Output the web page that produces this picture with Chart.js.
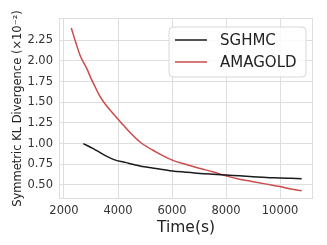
<!DOCTYPE html>
<html>
<head>
<meta charset="utf-8">
<script src="https://cdn.jsdelivr.net/npm/chart.js@4.4.1/dist/chart.umd.min.js"></script>
<style>
  html, body { margin: 0; padding: 0; background: #fff; }
  #wrap { width: 327px; height: 245px; }
</style>
</head>
<body>
<div id="wrap"><canvas id="klChart"></canvas></div>
<script>
// values (x = time in seconds, y in units of 1e-2)
const sghmcTime = [2715, 3085, 3450, 3826, 4300, 4815, 5400, 6011, 6500, 7037, 7500, 8000, 8500, 9000, 9500, 10000, 10400, 10800];
const sghmcKL   = [1.00, 0.94, 0.87, 0.81, 0.77, 0.73, 0.70, 0.67, 0.655, 0.64, 0.63, 0.62, 0.61, 0.60, 0.59, 0.585, 0.58, 0.575];

const amagoldTime = [2270, 2430, 2593, 2841, 3000, 3148, 3300, 3456, 3800, 4137, 4400, 4815, 5400, 6011, 6500, 7037, 7500, 8000, 8500, 9000, 9500, 10000, 10400, 10800];
const amagoldKL   = [2.40, 2.23, 2.07, 1.91, 1.79, 1.69, 1.59, 1.51, 1.37, 1.245, 1.15, 1.02, 0.90, 0.80, 0.75, 0.70, 0.66, 0.61, 0.57, 0.54, 0.51, 0.48, 0.45, 0.43];

const xTicks = [2000, 4000, 6000, 8000, 10000];
const yTicks = [0.50, 0.75, 1.00, 1.25, 1.50, 1.75, 2.00, 2.25];

const seriesNames = ['SGHMC', 'AMAGOLD'];
const seriesColors = ['#1a1a1a', '#cc4b4b'];

function toPoints(xs, ys) {
    return xs.map((x, i) => ({ x: x, y: ys[i] }));
}

const gridColor = '#dedede';
const tickColor = '#333333';

// frame around plot area + legend box inside plot
const framePlugin = {
    id: 'frame',
    beforeDatasetsDraw(chart) {
        const a = chart.chartArea;
        const ctx = chart.ctx;
        ctx.save();
        ctx.strokeStyle = gridColor;
        ctx.lineWidth = 1;
        ctx.strokeRect(a.left + 0.5, a.top + 0.5, a.right - a.left - 1, a.bottom - a.top - 1);
        ctx.restore();
    },
    afterDraw(chart) {
        const ctx = chart.ctx;
        const bx = 169, by = 27, bw = 137, bh = 50, r = 4;
        ctx.save();
        ctx.fillStyle = 'rgba(255,255,255,0.85)';
        ctx.strokeStyle = '#d8d8d8';
        ctx.lineWidth = 1;
        ctx.beginPath();
        ctx.moveTo(bx + r, by);
        ctx.arcTo(bx + bw, by, bx + bw, by + bh, r);
        ctx.arcTo(bx + bw, by + bh, bx, by + bh, r);
        ctx.arcTo(bx, by + bh, bx, by, r);
        ctx.arcTo(bx, by, bx + bw, by, r);
        ctx.closePath();
        ctx.fill();
        ctx.stroke();
        ctx.font = '15px "DejaVu Sans"';
        ctx.textBaseline = 'middle';
        chart.data.datasets.forEach((ds, i) => {
            const y = 40 + i * 22;
            ctx.strokeStyle = ds.borderColor;
            ctx.lineWidth = 1.5;
            ctx.beginPath();
            ctx.moveTo(175, y);
            ctx.lineTo(207, y);
            ctx.stroke();
            ctx.fillStyle = '#222';
            ctx.fillText(ds.label, 220, y + 1);
        });
        ctx.restore();
    }
};

new Chart(document.getElementById('klChart'), {
    type: 'line',
    data: {
        datasets: [
            {
                label: seriesNames[0],
                data: toPoints(sghmcTime, sghmcKL),
                borderColor: seriesColors[0],
                borderWidth: 1.5,
                pointRadius: 0,
                cubicInterpolationMode: 'monotone'
            },
            {
                label: seriesNames[1],
                data: toPoints(amagoldTime, amagoldKL),
                borderColor: seriesColors[1],
                borderWidth: 1.5,
                pointRadius: 0,
                cubicInterpolationMode: 'monotone'
            }
        ]
    },
    options: {
        responsive: true,
        maintainAspectRatio: false,
        animation: false,
        layout: { padding: { top: 18, right: 14, left: 0, bottom: 0 } },
        plugins: {
            legend: { display: false },
            tooltip: { enabled: false }
        },
        scales: {
            x: {
                type: 'linear',
                min: 1815,
                max: 11220,
                afterBuildTicks: s => { s.ticks = xTicks.map(v => ({ value: v })); },
                afterFit: s => { s.height = 46; },
                grid: { color: gridColor, lineWidth: 1, drawTicks: false },
                border: { display: false },
                ticks: {
                    color: tickColor,
                    padding: 5,
                    maxRotation: 0,
                    font: { family: 'DejaVu Sans', size: 11.5 },
                    callback: v => String(v)
                },
                title: {
                    display: true,
                    text: 'Time(s)',
                    color: '#222',
                    font: { family: 'DejaVu Sans', size: 15.5 },
                    padding: { top: 0, bottom: 8 }
                }
            },
            y: {
                min: 0.33,
                max: 2.52,
                afterBuildTicks: s => { s.ticks = yTicks.map(v => ({ value: v })); },
                afterFit: s => { s.width = 59; },
                grid: { color: gridColor, lineWidth: 1, drawTicks: false },
                border: { display: false },
                ticks: {
                    color: tickColor,
                    padding: 6,
                    font: { family: 'DejaVu Sans', size: 11.5 },
                    callback: v => v.toFixed(2)
                },
                title: {
                    display: true,
                    text: 'Symmetric KL Divergence (×10⁻²)',
                    color: '#222',
                    font: { family: 'DejaVu Sans', size: 11.5 },
                    padding: { top: 11, bottom: 0 }
                }
            }
        }
    },
    plugins: [framePlugin]
});
</script>
</body>
</html>
